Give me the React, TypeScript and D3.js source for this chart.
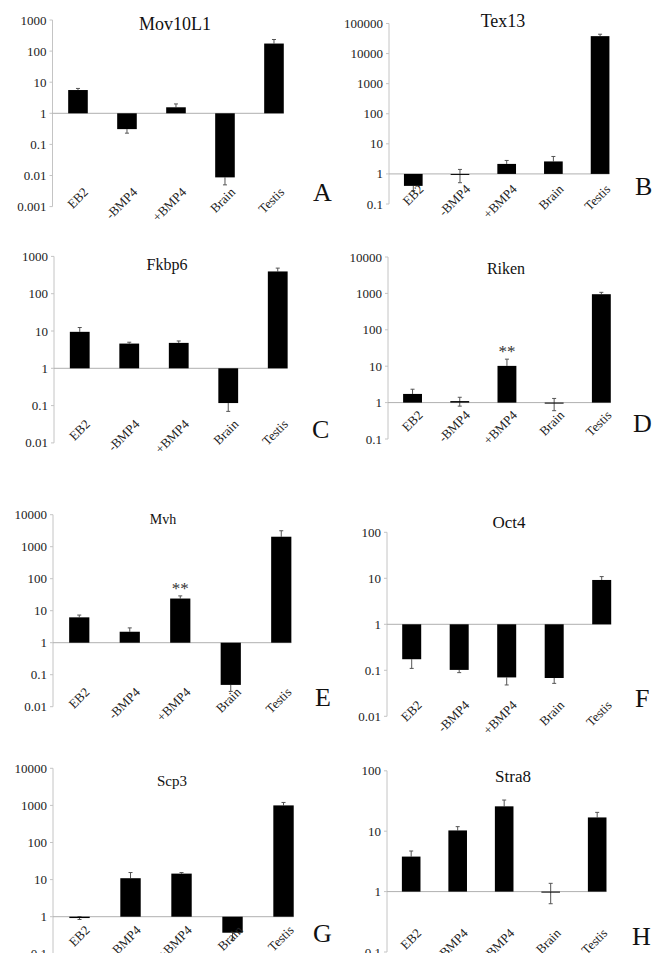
import * as d3 from 'd3';
import React, { useEffect } from 'react';

// Relative expression (log scale), five samples per gene
const categories = ['EB2', '-BMP4', '+BMP4', 'Brain', 'Testis'];

const mov10l1Values = [5.6, 0.31, 1.56, 0.0087, 175];
const mov10l1Errors = [0.7, 0.08, 0.44, 0.0037, 61];

const tex13Values = [0.4, 0.96, 2.15, 2.6, 38000];
const tex13Errors = [0.12, 0.45, 0.65, 1.2, 6000];

const fkbp6Values = [9.5, 4.6, 4.8, 0.117, 395];
const fkbp6Errors = [2.9, 0.4, 0.6, 0.047, 90];

const rikenValues = [1.73, 1.1, 10.2, 0.95, 950];
const rikenErrors = [0.6, 0.3, 5.4, 0.35, 120];

const mvhValues = [6.2, 2.2, 24, 0.048, 2050];
const mvhErrors = [1.1, 0.7, 5, 0.018, 1100];

const oct4Values = [0.174, 0.102, 0.07, 0.068, 9.2];
const oct4Errors = [0.064, 0.013, 0.022, 0.016, 1.7];

const scp3Values = [0.92, 10.9, 14.5, 0.37, 1000];
const scp3Errors = [0.08, 4.6, 1.0, 0.14, 200];

const stra8Values = [3.8, 10.3, 25.8, 1.0, 16.9];
const stra8Errors = [0.9, 1.6, 7, 0.37, 3.6];

type Panel = {
  title: string;
  letter: string;
  values: number[];
  errors: number[];
  domain: [number, number];
  star?: number; // index of the bar marked "**"
  axisX: number;
  yTop: number;
  yBottom: number;
  step: number;
  labelY: number;
  titleX: number;
  titleY: number;
  titleSize: number;
  letterX: number;
  letterY: number;
};

const panels: Panel[] = [
  {
    title: 'Mov10L1', letter: 'A', values: mov10l1Values, errors: mov10l1Errors,
    domain: [0.001, 1000], axisX: 52.5, yTop: 20, yBottom: 206.6, step: 49,
    labelY: 193, titleX: 175, titleY: 30, titleSize: 18, letterX: 313, letterY: 201,
  },
  {
    title: 'Tex13', letter: 'B', values: tex13Values, errors: tex13Errors,
    domain: [0.1, 100000], axisX: 389, yTop: 23.5, yBottom: 204, step: 46.7,
    labelY: 190, titleX: 503, titleY: 27, titleSize: 18, letterX: 635, letterY: 195,
  },
  {
    title: 'Fkbp6', letter: 'C', values: fkbp6Values, errors: fkbp6Errors,
    domain: [0.01, 1000], axisX: 54, yTop: 256.4, yBottom: 442.9, step: 49.5,
    labelY: 425, titleX: 167, titleY: 270, titleSize: 16, letterX: 312, letterY: 438,
  },
  {
    title: 'Riken', letter: 'D', values: rikenValues, errors: rikenErrors, star: 2,
    domain: [0.1, 10000], axisX: 388, yTop: 257, yBottom: 439, step: 47.2,
    labelY: 416, titleX: 506, titleY: 274, titleSize: 16, letterX: 633, letterY: 432,
  },
  {
    title: 'Mvh', letter: 'E', values: mvhValues, errors: mvhErrors, star: 2,
    domain: [0.01, 10000], axisX: 53, yTop: 514.7, yBottom: 706.7, step: 50.5,
    labelY: 693, titleX: 163, titleY: 524, titleSize: 14, letterX: 315, letterY: 706,
  },
  {
    title: 'Oct4', letter: 'F', values: oct4Values, errors: oct4Errors,
    domain: [0.01, 100], axisX: 387, yTop: 532.3, yBottom: 716.3, step: 47.5,
    labelY: 706, titleX: 509, titleY: 528, titleSize: 17, letterX: 635, letterY: 707,
  },
  {
    title: 'Scp3', letter: 'G', values: scp3Values, errors: scp3Errors,
    domain: [0.1, 10000], axisX: 53, yTop: 768.3, yBottom: 953.8, step: 51,
    labelY: 931, titleX: 172, titleY: 786, titleSize: 15, letterX: 313, letterY: 942,
  },
  {
    title: 'Stra8', letter: 'H', values: stra8Values, errors: stra8Errors,
    domain: [0.1, 100], axisX: 387, yTop: 770.8, yBottom: 952, step: 46.5,
    labelY: 934, titleX: 513, titleY: 782, titleSize: 17, letterX: 632, letterY: 945,
  },
];

const FONT = '"Liberation Serif", "Times New Roman", serif';
const PAD_INNER = 0.6;
const PAD_OUTER = 0.32;

export default function App() {
  const ref = React.useRef<SVGSVGElement>(null);

  useEffect(() => {
    if (!ref.current) return;
    const svg = d3.select(ref.current);
    svg.selectAll('*').remove();

    svg.append('rect').attr('width', 663).attr('height', 953).attr('fill', '#fff');

    panels.forEach(p => {
      const g = svg.append('g');
      const n = categories.length;

      const x = d3
        .scaleBand<string>()
        .domain(categories)
        .range([p.axisX, p.axisX + p.step * (n - PAD_INNER + 2 * PAD_OUTER)])
        .paddingInner(PAD_INNER)
        .paddingOuter(PAD_OUTER);

      const y = d3.scaleLog().domain(p.domain).range([p.yBottom, p.yTop]);

      // decade ticks
      const lo = Math.round(Math.log10(p.domain[0]));
      const hi = Math.round(Math.log10(p.domain[1]));
      const ticks = d3.range(lo, hi + 1).map(e => +Math.pow(10, e).toPrecision(1));

      // y axis
      g.append('line')
        .attr('x1', p.axisX).attr('x2', p.axisX)
        .attr('y1', y(p.domain[1])).attr('y2', y(p.domain[0]))
        .attr('stroke', '#c4c4c4').attr('stroke-width', 1);

      g.selectAll('.tick')
        .data(ticks)
        .enter()
        .append('line')
        .attr('x1', p.axisX - 3).attr('x2', p.axisX)
        .attr('y1', d => y(d)).attr('y2', d => y(d))
        .attr('stroke', '#c4c4c4');

      g.selectAll('.ticklabel')
        .data(ticks)
        .enter()
        .append('text')
        .attr('x', p.axisX - 6)
        .attr('y', d => y(d))
        .attr('dy', '0.35em')
        .attr('text-anchor', 'end')
        .attr('font-family', FONT)
        .attr('font-size', 13)
        .attr('fill', '#222')
        .text(d => d3.format('~g')(d));

      // baseline at 1
      const last = categories[n - 1];
      g.append('line')
        .attr('x1', p.axisX)
        .attr('x2', (x(last) ?? 0) + x.bandwidth())
        .attr('y1', y(1)).attr('y2', y(1))
        .attr('stroke', '#b0b0b0').attr('stroke-width', 1);

      const rows = categories.map((c, i) => ({ c, v: p.values[i], e: p.errors[i] }));

      // error bars: up for values above 1, down below 1, both when close to 1
      rows.forEach(r => {
        const cx = (x(r.c) ?? 0) + x.bandwidth() / 2;
        const near = Math.abs(Math.log10(r.v)) < 0.06;
        const ends: number[] = [];
        if (near || r.v >= 1) ends.push(r.v + r.e);
        if (near || r.v < 1) ends.push(Math.max(r.v - r.e, p.domain[0]));
        ends.forEach(end => {
          g.append('line')
            .attr('x1', cx).attr('x2', cx)
            .attr('y1', y(r.v)).attr('y2', y(end))
            .attr('stroke', '#555').attr('stroke-width', 1);
          g.append('line')
            .attr('x1', cx - 2).attr('x2', cx + 2)
            .attr('y1', y(end)).attr('y2', y(end))
            .attr('stroke', '#555').attr('stroke-width', 1);
        });
      });

      // bars grow from 1
      g.selectAll('.bar')
        .data(rows)
        .enter()
        .append('rect')
        .attr('x', d => x(d.c) ?? 0)
        .attr('width', x.bandwidth())
        .attr('y', d => Math.min(y(d.v), y(1)))
        .attr('height', d => Math.max(Math.abs(y(d.v) - y(1)), 1))
        .attr('fill', '#000');

      // rotated category labels
      g.selectAll('.cat')
        .data(categories)
        .enter()
        .append('text')
        .attr('transform', d => {
          const cx = (x(d) ?? 0) + x.bandwidth() / 2 + 11;
          return `translate(${cx},${p.labelY}) rotate(-45)`;
        })
        .attr('text-anchor', 'end')
        .attr('font-family', FONT)
        .attr('font-size', 13)
        .attr('fill', '#222')
        .text(d => d);

      if (p.star !== undefined) {
        const c = categories[p.star];
        const top = y(p.values[p.star] + p.errors[p.star]);
        g.append('text')
          .attr('x', (x(c) ?? 0) + x.bandwidth() / 2)
          .attr('y', top - 2)
          .attr('text-anchor', 'middle')
          .attr('font-family', FONT)
          .attr('font-size', 17)
          .attr('fill', '#333')
          .text('**');
      }

      g.append('text')
        .attr('x', p.titleX)
        .attr('y', p.titleY)
        .attr('text-anchor', 'middle')
        .attr('font-family', FONT)
        .attr('font-size', p.titleSize)
        .attr('fill', '#111')
        .text(p.title);

      g.append('text')
        .attr('x', p.letterX)
        .attr('y', p.letterY)
        .attr('font-family', FONT)
        .attr('font-size', 26)
        .attr('fill', '#111')
        .text(p.letter);
    });
  }, []);

  return (
    <svg
      ref={ref}
      width={663}
      height={953}
      style={{ position: 'absolute', left: 0, top: 0 }}
    />
  );
}
